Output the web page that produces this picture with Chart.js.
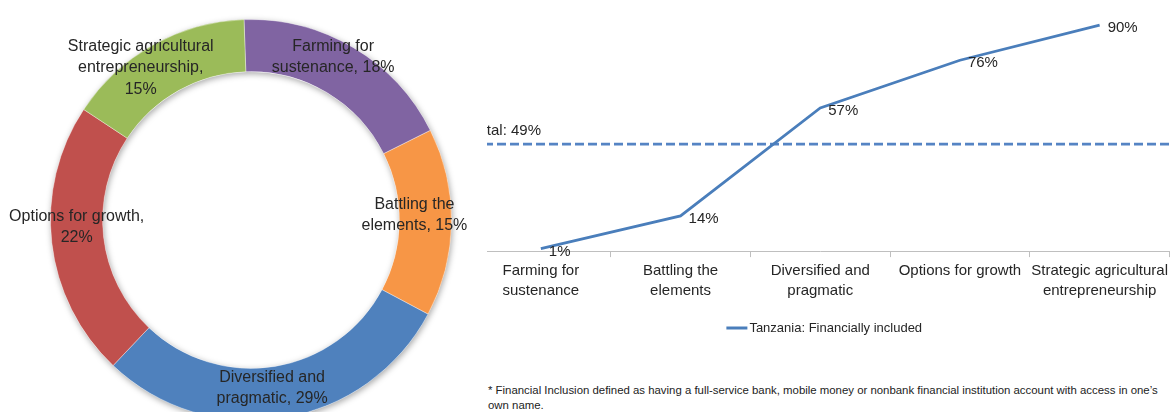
<!DOCTYPE html>
<html lang="en">
<head>
<meta charset="UTF-8">
<meta name="viewport" content="width=device-width, initial-scale=1.0">
<title>Farmer segments and financial inclusion</title>
<style>
    html, body {
        margin: 0;
        padding: 0;
        width: 1172px;
        height: 412px;
        overflow: hidden;
        background: #fff;
        font-family: "Liberation Sans", Arial, sans-serif;
    }
    .donut-box {
        position: absolute;
        left: 0;
        top: 10px;
        width: 480px;
        height: 420px;
    }
    .line-clip {
        position: absolute;
        left: 487px;
        top: 0;
        width: 685px;
        height: 360px;
        overflow: hidden;
    }
    .line-box {
        position: absolute;
        left: -16px;
        top: 0;
        width: 701px;
        height: 346px;
    }
    .note {
        position: absolute;
        left: 488px;
        top: 383px;
        width: 684px;
        font-size: 11.4px;
        line-height: 15px;
        color: #222;
        white-space: nowrap;
    }
</style>
<script src="https://cdn.jsdelivr.net/npm/chart.js"></script>
</head>
<body>
<div class="donut-box"><canvas id="segmentChart"></canvas></div>
<div class="line-clip"><div class="line-box"><canvas id="inclusionChart"></canvas></div></div>
<div class="note">* Financial Inclusion defined as having a full-service bank, mobile money or nonbank financial institution account with access in one’s<br>own name.</div>

<script>
    // segment shares (doughnut)
    const segments = ['Farming for sustenance', 'Battling the elements', 'Diversified and pragmatic', 'Options for growth', 'Strategic agricultural entrepreneurship'];
    const segmentShare = [18, 15, 29, 22, 15];
    const segmentColors = ['#8064A2', '#F79646', '#4F81BD', '#C0504D', '#9BBB59'];
    // wrapped label text, the share gets appended to the last line
    const segmentText = [
        ['Farming for', 'sustenance, '],
        ['Battling the', 'elements, '],
        ['Diversified and', 'pragmatic, '],
        ['Options for growth,', ''],
        ['Strategic agricultural', 'entrepreneurship,', '']
    ];

    // financially included by segment (line)
    const stageLabels = [['Farming for', 'sustenance'], ['Battling the', 'elements'], ['Diversified and', 'pragmatic'], 'Options for growth', ['Strategic agricultural', 'entrepreneurship']];
    const includedPct = [1, 14, 57, 76, 90];
    const nationalTotalPct = 49;

    const FONT = '"Liberation Sans", Arial, sans-serif';
    const TEXT = '#262626';
    const LINE_BLUE = '#4A7EBB';

    // soft shadow under the whole ring
    const ringShadow = {
        id: 'ringShadow',
        beforeDatasetsDraw(chart) {
            const arc = chart.getDatasetMeta(0).data[0];
            if (!arc) return;
            const p = arc.getProps(['x', 'y', 'innerRadius', 'outerRadius'], true);
            const ctx = chart.ctx;
            ctx.save();
            ctx.shadowColor = 'rgba(0,0,0,0.35)';
            ctx.shadowBlur = 6;
            ctx.shadowOffsetX = 1;
            ctx.shadowOffsetY = 2;
            ctx.beginPath();
            ctx.arc(p.x, p.y, p.outerRadius, 0, Math.PI * 2);
            ctx.arc(p.x, p.y, p.innerRadius, 0, Math.PI * 2, true);
            ctx.fillStyle = '#fff';
            ctx.fill();
            ctx.restore();
        }
    };

    // category + share written on each slice
    const segmentLabels = {
        id: 'segmentLabels',
        afterDatasetsDraw(chart, args, opts) {
            const ctx = chart.ctx;
            ctx.save();
            ctx.font = '16px ' + FONT;
            ctx.fillStyle = TEXT;
            ctx.textAlign = 'center';
            ctx.textBaseline = 'middle';
            chart.getDatasetMeta(0).data.forEach((arc, i) => {
                const c = arc.getCenterPoint();
                const lines = segmentText[i].slice();
                lines[lines.length - 1] += segmentShare[i] + '%';
                const x = c.x + opts.shift[i][0];
                const y = c.y + opts.shift[i][1];
                lines.forEach((t, k) => {
                    ctx.fillText(t, x, y + (k - (lines.length - 1) / 2) * 21.5);
                });
            });
            ctx.restore();
        }
    };

    new Chart(document.getElementById('segmentChart'), {
        type: 'doughnut',
        data: {
            labels: segments,
            datasets: [{
                data: segmentShare,
                backgroundColor: segmentColors,
                borderWidth: 1,
                borderColor: 'rgba(255,255,255,0.35)'
            }]
        },
        options: {
            responsive: true,
            maintainAspectRatio: false,
            animation: false,
            cutout: '74%',
            rotation: -2,
            layout: { padding: { left: 50, right: 28, top: 9, bottom: 9 } },
            plugins: {
                legend: { display: false },
                tooltip: { enabled: false },
                segmentLabels: {
                    shift: [[-7, -13], [-11, -7], [-7, -4], [-1, -13], [-25, 0]]
                }
            }
        },
        plugins: [ringShadow, segmentLabels]
    });

    // dashed national total across the plot
    const totalLine = {
        id: 'totalLine',
        beforeDatasetsDraw(chart) {
            const { ctx, chartArea } = chart;
            const y = chart.scales.y2.getPixelForValue(nationalTotalPct);
            ctx.save();
            ctx.strokeStyle = '#5584C4';
            ctx.lineWidth = 2.75;
            ctx.setLineDash([9, 4]);
            ctx.beginPath();
            ctx.moveTo(chartArea.left, y);
            ctx.lineTo(chartArea.right, y);
            ctx.stroke();
            ctx.setLineDash([]);
            ctx.font = '15px ' + FONT;
            ctx.fillStyle = TEXT;
            ctx.textAlign = 'left';
            ctx.textBaseline = 'middle';
            ctx.fillText('Total: ' + nationalTotalPct + '%', chartArea.left, y - 13.5);
            ctx.restore();
        }
    };

    // value labels next to the points
    const pointLabels = {
        id: 'pointLabels',
        afterDatasetsDraw(chart) {
            const ctx = chart.ctx;
            ctx.save();
            ctx.font = '15px ' + FONT;
            ctx.fillStyle = TEXT;
            ctx.textAlign = 'left';
            ctx.textBaseline = 'middle';
            chart.getDatasetMeta(0).data.forEach((pt, i) => {
                ctx.fillText(includedPct[i] + '%', pt.x + 8, pt.y + 3);
            });
            ctx.restore();
        }
    };

    // legend: short line sample followed by the series name
    const lineLegend = {
        id: 'lineLegend',
        afterDraw(chart) {
            const ctx = chart.ctx;
            const name = chart.data.datasets[0].label;
            ctx.save();
            ctx.font = '13px ' + FONT;
            const tw = ctx.measureText(name).width;
            const sample = 21, gap = 2;
            const x0 = (chart.chartArea.left + chart.chartArea.right) / 2 - (sample + gap + tw) / 2 + 4;
            const y = 328;
            ctx.strokeStyle = LINE_BLUE;
            ctx.lineWidth = 3;
            ctx.beginPath();
            ctx.moveTo(x0, y);
            ctx.lineTo(x0 + sample, y);
            ctx.stroke();
            ctx.fillStyle = TEXT;
            ctx.textAlign = 'left';
            ctx.textBaseline = 'middle';
            ctx.fillText(name, x0 + sample + gap, y);
            ctx.restore();
        }
    };

    new Chart(document.getElementById('inclusionChart'), {
        type: 'line',
        data: {
            labels: stageLabels,
            datasets: [{
                label: 'Tanzania: Financially included',
                data: includedPct,
                borderColor: LINE_BLUE,
                backgroundColor: LINE_BLUE,
                borderWidth: 2.75,
                pointRadius: 0,
                tension: 0,
                yAxisID: 'y'
            }]
        },
        options: {
            responsive: true,
            maintainAspectRatio: false,
            animation: false,
            layout: { padding: { left: 0, right: 0, top: 0, bottom: 41 } },
            scales: {
                x: {
                    offset: true,
                    grid: { offset: true, drawOnChartArea: false, tickLength: 6, color: '#bfbfbf' },
                    border: { color: '#bfbfbf' },
                    ticks: {
                        color: TEXT,
                        font: { size: 15, family: FONT, lineHeight: 1.33 },
                        padding: 4,
                        maxRotation: 0,
                        autoSkip: false
                    }
                },
                y: { display: false, min: 0, max: 100 },
                y2: { display: false, min: 0, max: 115 }
            },
            plugins: {
                legend: { display: false },
                tooltip: { enabled: false }
            }
        },
        plugins: [totalLine, pointLabels, lineLegend]
    });
</script>
</body>
</html>
